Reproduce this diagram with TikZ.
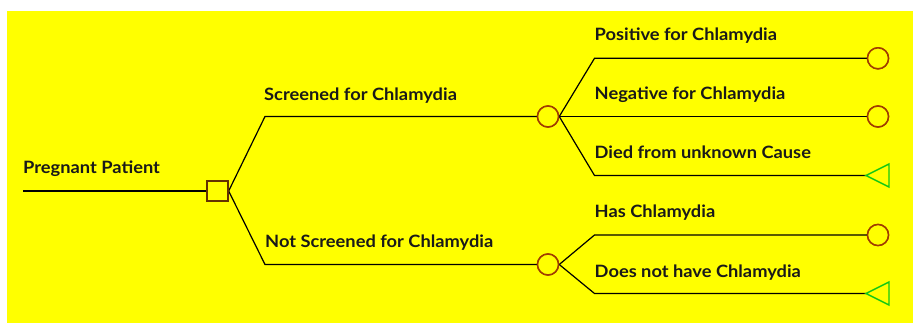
\documentclass[tikz,border=0pt]{standalone}
\usepackage{fontspec}
\setmainfont{Lato}[FakeStretch=1.075]
\begin{document}
\begin{tikzpicture}[x=1pt,y=-1pt,
  edge/.style={line width=1.2pt,black},
  lbl/.style={anchor=base west,inner sep=0pt,font=\fontsize{17}{19}\selectfont\bfseries,text=black!90},
  decbox/.style={draw=sqbrown,fill=bgyellow,line width=1.3pt,minimum width=21pt,minimum height=20pt,inner sep=0pt},
  chance/.style={circle,draw=cbrown,fill=bgyellow,line width=1.5pt,minimum size=21pt,inner sep=0pt},
  termtri/.style={draw=tgreen,fill=bgyellow,line width=1.4pt,line join=miter}
]
\definecolor{bgyellow}{RGB}{255,255,0}
\definecolor{cbrown}{RGB}{160,60,0}
\definecolor{sqbrown}{RGB}{100,50,0}
\definecolor{tgreen}{RGB}{20,200,20}
\useasboundingbox (0,0) rectangle (913,323);
\fill[white] (0,0) rectangle (913,323);
\fill[bgyellow] (7,11.5) rectangle (913,323);

% nodes
\coordinate (root) at (23,191);
\node[decbox] (dec) at (217.5,191) {};
\node[chance] (c1) at (548,116.5) {};
\node[chance] (c2) at (548,264.5) {};
\node[chance] (t1) at (878,58.3) {};
\node[chance] (t2) at (878,116.5) {};
\node[chance] (t5) at (878,235) {};
\coordinate (t3) at (866,175.5);
\coordinate (t4) at (866,293.5);

% elbows
\coordinate (e1) at (265,116.5);
\coordinate (e2) at (265,264.5);
\coordinate (e3) at (594.5,58.3);
\coordinate (e4) at (594.5,175.5);
\coordinate (e5) at (594.5,235);
\coordinate (e6) at (594.5,293.5);

% connectors
\draw[edge] (root) -- (dec.west);
\draw[edge] (dec.east) -- (e1) -- (c1.west);
\draw[edge] (dec.east) -- (e2) -- (c2.west);
\draw[edge] (c1.east) -- (e3) -- (t1.west);
\draw[edge] (c1.east) -- (t2.west);
\draw[edge] (c1.east) -- (e4) -- (t3);
\draw[edge] (c2.east) -- (e5) -- (t5.west);
\draw[edge] (c2.east) -- (e6) -- (t4);

% redraw nodes on top
\node[decbox] at (dec) {};
\node[chance] at (c1) {};
\node[chance] at (c2) {};
\node[chance] at (t1) {};
\node[chance] at (t2) {};
\node[chance] at (t5) {};
\draw[termtri] (t3) -- ++(23,-11.5) -- ++(0,23) -- cycle;
\draw[termtri] (t4) -- ++(23,-11.5) -- ++(0,23) -- cycle;

% labels
\node[lbl] (lroot) at (23,174) {Pregnant Patient};
\node[lbl] (l1) at (264,100.7) {Screened for Chlamydia};
\node[lbl] (l2) at (265,247.3) {Not Screened for Chlamydia};
\node[lbl] (l3) at (594.5,40.7) {Positive for Chlamydia};
\node[lbl] (l4) at (594.5,100) {Negative for Chlamydia};
\node[lbl] (l5) at (594.5,158.3) {Died from unknown Cause};
\node[lbl] (l6) at (594.5,217.3) {Has Chlamydia};
\node[lbl] (l7) at (594.5,277.3) {Does not have Chlamydia};
\end{tikzpicture}
\end{document}
